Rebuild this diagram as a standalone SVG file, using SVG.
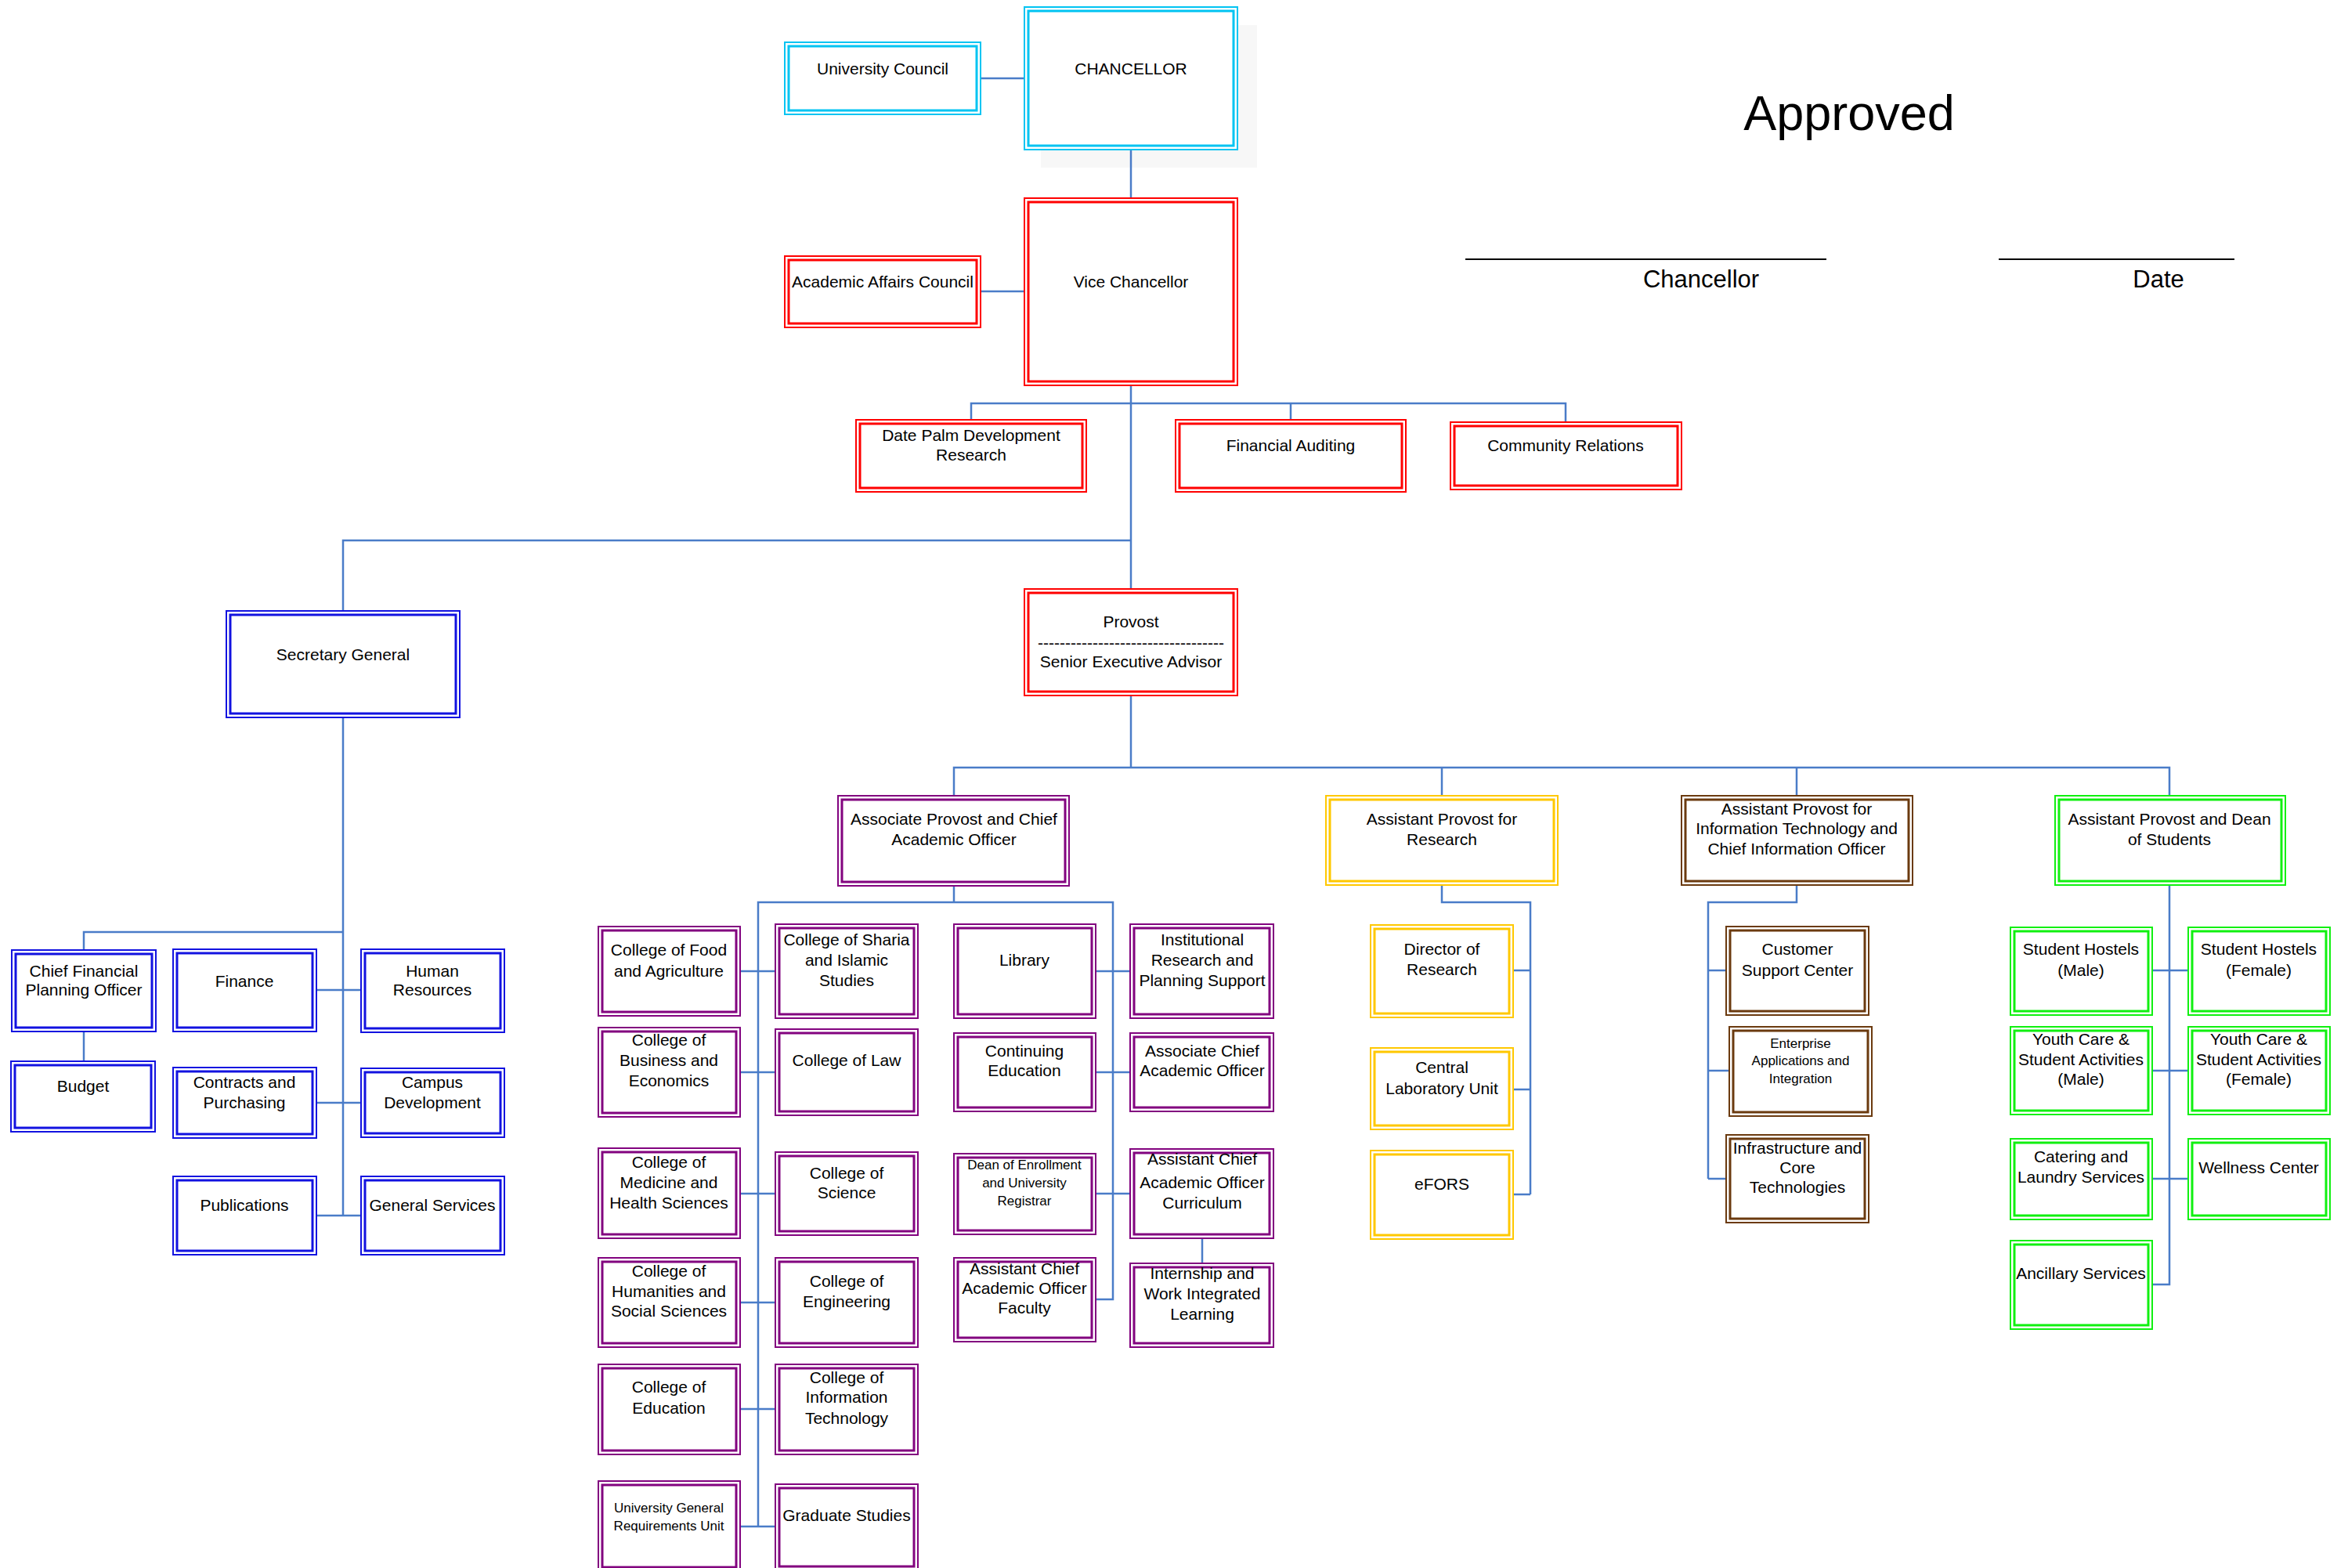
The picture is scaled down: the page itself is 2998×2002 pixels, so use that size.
<svg xmlns="http://www.w3.org/2000/svg" width="2998" height="2002" viewBox="0 0 2998 2002">
<style>
text{font-family:"Liberation Sans",Arial,sans-serif;font-size:21px;fill:#000;stroke:none;text-anchor:middle}
.sm{font-size:17px}
.o{fill:#fff;stroke-width:2}
.i{fill:none;stroke-width:3}
.cy{stroke:#00c4f2}
.rd{stroke:#ff0000}
.bl{stroke:#1212e0}
.pu{stroke:#82037f}
.ye{stroke:#ffc800}
.br{stroke:#6b3a0f}
.gr{stroke:#10f010}
#connectors path{fill:none;stroke:#4a7cc8;stroke-width:2.5}
</style>
<rect x="0" y="0" width="2998" height="2002" fill="#fff"/>
<rect x="1329" y="32" width="276" height="182" fill="#f7f7f7"/>

<g id="connectors">
<path d="M1252 100H1308"/>
<path d="M1444 191V253"/>
<path d="M1252 372H1308"/>
<path d="M1444 492V752"/>
<path d="M1240 536V515H1999V539"/>
<path d="M1648 515V536"/>
<path d="M1444 690H438V780"/>
<path d="M438 916V1552"/>
<path d="M438 1190H107V1213"/>
<path d="M107 1317V1355"/>
<path d="M404 1264H461"/>
<path d="M404 1408H461"/>
<path d="M404 1552H461"/>
<path d="M1444 888V980"/>
<path d="M1218 1016V980H2770V1016"/>
<path d="M1841 980V1016"/>
<path d="M2294 980V1016"/>
<path d="M1218 1131V1152"/>
<path d="M968 1949V1152H1421V1659H1399"/>
<path d="M945 1240H990"/>
<path d="M945 1369H990"/>
<path d="M945 1524H990"/>
<path d="M945 1663H990"/>
<path d="M945 1799H990"/>
<path d="M945 1949H990"/>
<path d="M1399 1240H1443"/>
<path d="M1399 1369H1443"/>
<path d="M1399 1524H1443"/>
<path d="M1535 1581V1613"/>
<path d="M1841 1130V1152H1954V1525"/>
<path d="M1932 1239H1954"/>
<path d="M1932 1391H1954"/>
<path d="M1932 1525H1954"/>
<path d="M2294 1130V1152H2181V1505"/>
<path d="M2181 1239H2204"/>
<path d="M2181 1367H2208"/>
<path d="M2181 1505H2204"/>
<path d="M2770 1130V1640H2748"/>
<path d="M2748 1239H2794"/>
<path d="M2748 1367H2794"/>
<path d="M2748 1505H2794"/>
</g>

<g id="university-council" class="cy"><rect class="o" x="1002" y="54" width="250" height="92"/><rect class="i" x="1007" y="59" width="240" height="82"/><text x="1127" y="95">University Council</text></g>
<g id="chancellor" class="cy"><rect class="o" x="1308" y="9" width="272" height="182"/><rect class="i" x="1313" y="14" width="262" height="172"/><text x="1444" y="95">CHANCELLOR</text></g>
<g id="academic-affairs-council" class="rd"><rect class="o" x="1002" y="327" width="250" height="91"/><rect class="i" x="1007" y="332" width="240" height="81"/><text x="1127" y="367">Academic Affairs Council</text></g>
<g id="vice-chancellor" class="rd"><rect class="o" x="1308" y="253" width="272" height="239"/><rect class="i" x="1313" y="258" width="262" height="229"/><text x="1444" y="367">Vice Chancellor</text></g>
<g id="date-palm" class="rd"><rect class="o" x="1093" y="536" width="294" height="92"/><rect class="i" x="1098" y="541" width="284" height="82"/><text x="1240" y="563">Date Palm Development</text><text x="1240" y="588">Research</text></g>
<g id="financial-auditing" class="rd"><rect class="o" x="1501" y="536" width="294" height="92"/><rect class="i" x="1506" y="541" width="284" height="82"/><text x="1648" y="576">Financial Auditing</text></g>
<g id="community-relations" class="rd"><rect class="o" x="1852" y="539" width="295" height="86"/><rect class="i" x="1857" y="544" width="285" height="76"/><text x="1999" y="576">Community Relations</text></g>
<g id="provost" class="rd"><rect class="o" x="1308" y="752" width="272" height="136"/><rect class="i" x="1313" y="757" width="262" height="126"/><text x="1444" y="801">Provost</text><text x="1444" y="828">----------------------------------</text><text x="1444" y="852">Senior Executive Advisor</text></g>

<g id="secretary-general" class="bl"><rect class="o" x="289" y="780" width="298" height="136"/><rect class="i" x="294" y="785" width="288" height="126"/><text x="438" y="843">Secretary General</text></g>
<g id="cfpo" class="bl"><rect class="o" x="15" y="1213" width="184" height="104"/><rect class="i" x="20" y="1218" width="174" height="94"/><text x="107" y="1247">Chief Financial</text><text x="107" y="1271">Planning Officer</text></g>
<g id="budget" class="bl"><rect class="o" x="14" y="1355" width="184" height="90"/><rect class="i" x="19" y="1360" width="174" height="80"/><text x="106" y="1394">Budget</text></g>
<g id="finance" class="bl"><rect class="o" x="221" y="1212" width="183" height="105"/><rect class="i" x="226" y="1217" width="173" height="95"/><text x="312" y="1260">Finance</text></g>
<g id="human-resources" class="bl"><rect class="o" x="461" y="1212" width="183" height="106"/><rect class="i" x="466" y="1217" width="173" height="96"/><text x="552" y="1247">Human</text><text x="552" y="1271">Resources</text></g>
<g id="contracts-purchasing" class="bl"><rect class="o" x="221" y="1363" width="183" height="90"/><rect class="i" x="226" y="1368" width="173" height="80"/><text x="312" y="1389">Contracts and</text><text x="312" y="1415">Purchasing</text></g>
<g id="campus-development" class="bl"><rect class="o" x="461" y="1364" width="183" height="88"/><rect class="i" x="466" y="1369" width="173" height="78"/><text x="552" y="1389">Campus</text><text x="552" y="1415">Development</text></g>
<g id="publications" class="bl"><rect class="o" x="221" y="1502" width="183" height="100"/><rect class="i" x="226" y="1507" width="173" height="90"/><text x="312" y="1546">Publications</text></g>
<g id="general-services" class="bl"><rect class="o" x="461" y="1502" width="183" height="100"/><rect class="i" x="466" y="1507" width="173" height="90"/><text x="552" y="1546">General Services</text></g>

<g id="associate-provost" class="pu"><rect class="o" x="1070" y="1016" width="295" height="115"/><rect class="i" x="1075" y="1021" width="285" height="105"/><text x="1218" y="1053">Associate Provost and Chief</text><text x="1218" y="1079">Academic Officer</text></g>
<g id="college-food" class="pu"><rect class="o" x="764" y="1183" width="181" height="114"/><rect class="i" x="769" y="1188" width="171" height="104"/><text x="854" y="1220">College of Food</text><text x="854" y="1247">and Agriculture</text></g>
<g id="college-sharia" class="pu"><rect class="o" x="990" y="1180" width="182" height="120"/><rect class="i" x="995" y="1185" width="172" height="110"/><text x="1081" y="1207">College of Sharia</text><text x="1081" y="1233">and Islamic</text><text x="1081" y="1259">Studies</text></g>
<g id="library" class="pu"><rect class="o" x="1218" y="1180" width="181" height="120"/><rect class="i" x="1223" y="1185" width="171" height="110"/><text x="1308" y="1233">Library</text></g>
<g id="institutional-research" class="pu"><rect class="o" x="1443" y="1180" width="183" height="120"/><rect class="i" x="1448" y="1185" width="173" height="110"/><text x="1535" y="1207">Institutional</text><text x="1535" y="1233">Research and</text><text x="1535" y="1259">Planning Support</text></g>
<g id="college-business" class="pu"><rect class="o" x="764" y="1312" width="181" height="114"/><rect class="i" x="769" y="1317" width="171" height="104"/><text x="854" y="1335">College of</text><text x="854" y="1361">Business and</text><text x="854" y="1387">Economics</text></g>
<g id="college-law" class="pu"><rect class="o" x="990" y="1314" width="182" height="110"/><rect class="i" x="995" y="1319" width="172" height="100"/><text x="1081" y="1361">College of Law</text></g>
<g id="continuing-education" class="pu"><rect class="o" x="1218" y="1319" width="181" height="100"/><rect class="i" x="1223" y="1324" width="171" height="90"/><text x="1308" y="1349">Continuing</text><text x="1308" y="1374">Education</text></g>
<g id="associate-chief-ao" class="pu"><rect class="o" x="1443" y="1319" width="183" height="100"/><rect class="i" x="1448" y="1324" width="173" height="90"/><text x="1535" y="1349">Associate Chief</text><text x="1535" y="1374">Academic Officer</text></g>
<g id="college-medicine" class="pu"><rect class="o" x="764" y="1466" width="181" height="115"/><rect class="i" x="769" y="1471" width="171" height="105"/><text x="854" y="1491">College of</text><text x="854" y="1517">Medicine and</text><text x="854" y="1543">Health Sciences</text></g>
<g id="college-science" class="pu"><rect class="o" x="990" y="1471" width="182" height="106"/><rect class="i" x="995" y="1476" width="172" height="96"/><text x="1081" y="1505">College of</text><text x="1081" y="1530">Science</text></g>
<g id="dean-enrollment" class="pu"><rect class="o" x="1218" y="1473" width="181" height="103"/><rect class="i" x="1223" y="1478" width="171" height="93"/><text class="sm" x="1308" y="1493">Dean of Enrollment</text><text class="sm" x="1308" y="1516">and University</text><text class="sm" x="1308" y="1539">Registrar</text></g>
<g id="asst-chief-curriculum" class="pu"><rect class="o" x="1443" y="1467" width="183" height="114"/><rect class="i" x="1448" y="1472" width="173" height="104"/><text x="1535" y="1487">Assistant Chief</text><text x="1535" y="1517">Academic Officer</text><text x="1535" y="1543">Curriculum</text></g>
<g id="college-humanities" class="pu"><rect class="o" x="764" y="1606" width="181" height="114"/><rect class="i" x="769" y="1611" width="171" height="104"/><text x="854" y="1630">College of</text><text x="854" y="1656">Humanities and</text><text x="854" y="1681">Social Sciences</text></g>
<g id="college-engineering" class="pu"><rect class="o" x="990" y="1606" width="182" height="114"/><rect class="i" x="995" y="1611" width="172" height="104"/><text x="1081" y="1643">College of</text><text x="1081" y="1669">Engineering</text></g>
<g id="asst-chief-faculty" class="pu"><rect class="o" x="1218" y="1606" width="181" height="107"/><rect class="i" x="1223" y="1611" width="171" height="97"/><text x="1308" y="1627">Assistant Chief</text><text x="1308" y="1652">Academic Officer</text><text x="1308" y="1677">Faculty</text></g>
<g id="internship" class="pu"><rect class="o" x="1443" y="1613" width="183" height="107"/><rect class="i" x="1448" y="1618" width="173" height="97"/><text x="1535" y="1633">Internship and</text><text x="1535" y="1659">Work Integrated</text><text x="1535" y="1685">Learning</text></g>
<g id="college-education" class="pu"><rect class="o" x="764" y="1742" width="181" height="115"/><rect class="i" x="769" y="1747" width="171" height="105"/><text x="854" y="1778">College of</text><text x="854" y="1805">Education</text></g>
<g id="college-it" class="pu"><rect class="o" x="990" y="1742" width="182" height="115"/><rect class="i" x="995" y="1747" width="172" height="105"/><text x="1081" y="1766">College of</text><text x="1081" y="1791">Information</text><text x="1081" y="1818">Technology</text></g>
<g id="ugru" class="pu"><rect class="o" x="764" y="1891" width="181" height="115"/><rect class="i" x="769" y="1896" width="171" height="105"/><text class="sm" x="854" y="1931">University General</text><text class="sm" x="854" y="1954">Requirements Unit</text></g>
<g id="graduate-studies" class="pu"><rect class="o" x="990" y="1895" width="182" height="110"/><rect class="i" x="995" y="1900" width="172" height="100"/><text x="1081" y="1942">Graduate Studies</text></g>

<g id="asst-provost-research" class="ye"><rect class="o" x="1693" y="1016" width="296" height="114"/><rect class="i" x="1698" y="1021" width="286" height="104"/><text x="1841" y="1053">Assistant Provost for</text><text x="1841" y="1079">Research</text></g>
<g id="director-research" class="ye"><rect class="o" x="1750" y="1181" width="182" height="118"/><rect class="i" x="1755" y="1186" width="172" height="108"/><text x="1841" y="1219">Director of</text><text x="1841" y="1245">Research</text></g>
<g id="central-lab" class="ye"><rect class="o" x="1750" y="1338" width="182" height="104"/><rect class="i" x="1755" y="1343" width="172" height="94"/><text x="1841" y="1370">Central</text><text x="1841" y="1397">Laboratory Unit</text></g>
<g id="efors" class="ye"><rect class="o" x="1750" y="1469" width="182" height="113"/><rect class="i" x="1755" y="1474" width="172" height="103"/><text x="1841" y="1519">eFORS</text></g>

<g id="asst-provost-it" class="br"><rect class="o" x="2147" y="1016" width="295" height="114"/><rect class="i" x="2152" y="1021" width="285" height="104"/><text x="2294" y="1040">Assistant Provost for</text><text x="2294" y="1065">Information Technology and</text><text x="2294" y="1091">Chief Information Officer</text></g>
<g id="customer-support" class="br"><rect class="o" x="2204" y="1183" width="182" height="113"/><rect class="i" x="2209" y="1188" width="172" height="103"/><text x="2295" y="1219">Customer</text><text x="2295" y="1246">Support Center</text></g>
<g id="enterprise-apps" class="br"><rect class="o" x="2208" y="1311" width="182" height="114"/><rect class="i" x="2213" y="1316" width="172" height="104"/><text class="sm" x="2299" y="1338">Enterprise</text><text class="sm" x="2299" y="1360">Applications and</text><text class="sm" x="2299" y="1383">Integration</text></g>
<g id="infrastructure" class="br"><rect class="o" x="2204" y="1449" width="182" height="112"/><rect class="i" x="2209" y="1454" width="172" height="102"/><text x="2295" y="1473">Infrastructure and</text><text x="2295" y="1498">Core</text><text x="2295" y="1523">Technologies</text></g>

<g id="dean-students" class="gr"><rect class="o" x="2624" y="1016" width="294" height="114"/><rect class="i" x="2629" y="1021" width="284" height="104"/><text x="2770" y="1053">Assistant Provost and Dean</text><text x="2770" y="1079">of Students</text></g>
<g id="hostels-male" class="gr"><rect class="o" x="2567" y="1184" width="181" height="112"/><rect class="i" x="2572" y="1189" width="171" height="102"/><text x="2657" y="1219">Student Hostels</text><text x="2657" y="1246">(Male)</text></g>
<g id="hostels-female" class="gr"><rect class="o" x="2794" y="1184" width="181" height="112"/><rect class="i" x="2799" y="1189" width="171" height="102"/><text x="2884" y="1219">Student Hostels</text><text x="2884" y="1246">(Female)</text></g>
<g id="youth-male" class="gr"><rect class="o" x="2567" y="1311" width="181" height="112"/><rect class="i" x="2572" y="1316" width="171" height="102"/><text x="2657" y="1334">Youth Care &amp;</text><text x="2657" y="1360">Student Activities</text><text x="2657" y="1385">(Male)</text></g>
<g id="youth-female" class="gr"><rect class="o" x="2794" y="1311" width="181" height="112"/><rect class="i" x="2799" y="1316" width="171" height="102"/><text x="2884" y="1334">Youth Care &amp;</text><text x="2884" y="1360">Student Activities</text><text x="2884" y="1385">(Female)</text></g>
<g id="catering" class="gr"><rect class="o" x="2567" y="1454" width="181" height="103"/><rect class="i" x="2572" y="1459" width="171" height="93"/><text x="2657" y="1484">Catering and</text><text x="2657" y="1510">Laundry Services</text></g>
<g id="wellness" class="gr"><rect class="o" x="2794" y="1454" width="181" height="103"/><rect class="i" x="2799" y="1459" width="171" height="93"/><text x="2884" y="1498">Wellness Center</text></g>
<g id="ancillary" class="gr"><rect class="o" x="2567" y="1584" width="181" height="113"/><rect class="i" x="2572" y="1589" width="171" height="103"/><text x="2657" y="1633">Ancillary Services</text></g>

<g id="approval">
<text x="2361" y="166" style="font-size:63px">Approved</text>
<line x1="1871" y1="331" x2="2332" y2="331" stroke="#000" stroke-width="2"/>
<text x="2172" y="367" style="font-size:31px">Chancellor</text>
<line x1="2552" y1="331" x2="2853" y2="331" stroke="#000" stroke-width="2"/>
<text x="2756" y="367" style="font-size:31px">Date</text>
</g>
</svg>
